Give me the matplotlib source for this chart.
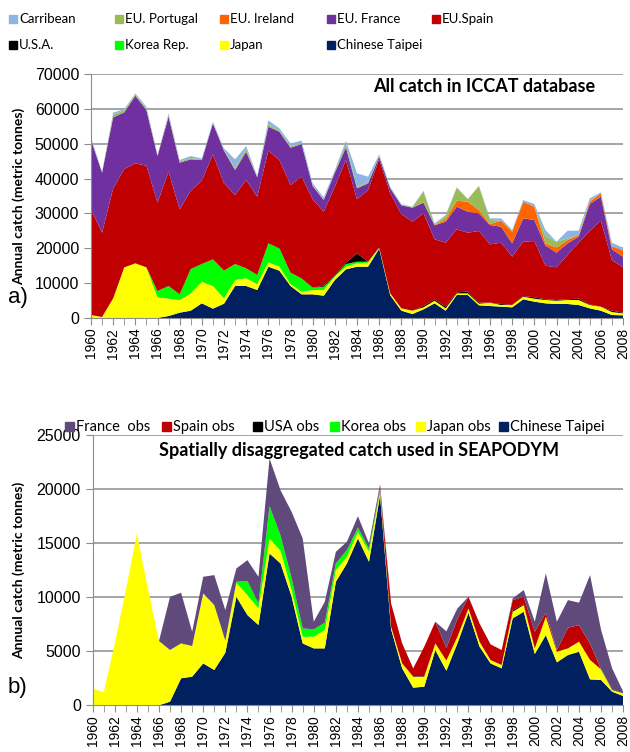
import matplotlib
matplotlib.use("Agg")
import matplotlib.pyplot as plt
from matplotlib.patches import Rectangle

years = list(range(1960, 2009))

# ---- panel a: all catch in ICCAT database (tonnes) ----
taipei = [0, 0, 0, 0, 0, 0, 0, 570, 1530, 2100, 4210, 2680, 4110, 9180, 9180, 8030,
          14720, 13575, 9178, 6788, 6788, 6405, 10898, 13958, 14722, 14722, 19885, 6501,
          2103, 1147, 2486, 4206, 2103, 6596, 6596, 3633, 3442, 3250, 3059, 5354, 4684,
          4206, 4015, 4015, 3728, 2772, 2103, 860, 765]
japan = [860, 290, 5640, 14530, 15680, 14530, 5930, 4970, 3630, 4970, 6210, 6500, 1530,
         1720, 2200, 1720, 1250, 1145, 573, 764, 1242, 1625, 1000, 764, 956, 1148, 191,
         573, 669, 956, 573, 765, 669, 478, 478, 478, 956, 478, 669, 764, 861, 956, 956,
         1147, 1434, 956, 1147, 861, 573]
korea = [0, 0, 0, 0, 0, 0, 1810, 3640, 1630, 6980, 5070, 7650, 7940, 4590, 2860, 2580,
         5440, 5260, 3251, 3824, 670, 956, 146, 765, 478, 286, 191, 0, 0, 0, 0, 0, 0, 0,
         0, 0, 0, 0, 0, 0, 0, 0, 0, 0, 0, 0, 0, 0, 0]
usa = [0, 0, 0, 0, 0, 0, 0, 0, 0, 0, 0, 0, 0, 0, 0, 0, 0, 0, 0, 0, 0, 287, 286, 383,
       2390, 0, 0, 0, 0, 0, 383, 383, 478, 287, 478, 287, 0, 287, 0, 192, 382, 192, 191,
       192, 383, 192, 0, 382, 192]
spain = [30310, 24180, 31550, 28200, 28680, 29160, 25340, 32790, 24380, 22470, 23900,
         30110, 25040, 19790, 25340, 22470, 26580, 25334, 25142, 29158, 25334, 21223,
         25334, 29444, 15488, 20554, 25239, 28680, 27055, 25525, 26576, 17208, 18356,
         18069, 16922, 20554, 16730, 17591, 13862, 15582, 16157, 9655, 9369, 12714,
         16061, 21032, 24665, 14531, 13001]
france = [19880, 17210, 20360, 16260, 19410, 15960, 13380, 15770, 13380, 8990, 5920,
          8890, 9370, 7170, 8120, 5540, 6880, 8126, 10708, 9369, 3824, 3346, 4016, 3633,
          3154, 1912, 764, 1434, 2486, 4016, 3060, 4015, 6022, 6500, 6022, 5066, 5544,
          4588, 3824, 6692, 6022, 5736, 4207, 3346, 1720, 7743, 6883, 3060, 3059]
ireland = [0] * 30 + [170, 120, 670, 1720, 2870, 956, 287, 1721, 3346, 4780, 3824, 669,
                      1434, 956, 478, 669, 956, 764, 1912]
portugal = [250, 120, 750, 610, 330, 550, 140, 460, 350, 390, 190, 170, 210, 550, 800,
            160, 630, 360, 350, 200, 140, 160, 318, 1053, 412, 478, 230, 212, 187, 156,
            3050, 164, 1000, 3729, 670, 6884, 1147, 0, 0, 0, 0, 2199, 1720, 478, 0, 287,
            0, 0, 0]
carribean = [500, 170, 590, 340, 330, 410, 150, 500, 410, 560, 290, 310, 460, 2510, 830,
             230, 1200, 600, 894, 800, 622, 600, 446, 859, 3890, 1434, 440, 266, 195, 130,
             219, 286, 240, 120, 166, 42, 478, 669, 478, 478, 765, 1625, 0, 2199, 1243,
             669, 287, 1148, 670]

# ---- panel b: spatially disaggregated catch used in SEAPODYM ----
taipei_b = [0, 0, 0, 0, 0, 0, 0, 340, 2500, 2650, 3880, 3270, 4870, 10050, 8355, 7430,
            14060, 13130, 10050, 5730, 5270, 5270, 11440, 13130, 15450, 13290, 19450,
            7030, 3420, 1630, 1730, 5120, 3200, 5730, 8570, 5430, 3880, 3420, 8050, 8660,
            4750, 6500, 3980, 4660, 4960, 2400, 2340, 1260, 860]
japan_b = [1570, 1200, 5730, 10670, 15900, 10820, 5950, 4780, 3230, 2840, 6480, 6010,
           1110, 1300, 1845, 1540, 1390, 1170, 620, 620, 1080, 1700, 1080, 620, 610, 920,
           310, 250, 460, 1020, 920, 610, 950, 620, 400, 460, 310, 310, 610, 620, 520,
           1700, 980, 610, 930, 1800, 930, 160, 250]
korea_b = [0] * 13 + [90, 1300, 460, 2990, 1400, 1080, 770, 680, 680, 610, 620, 400, 310,
                      160] + [0] * 19 + [60, 0, 0]
usa_b = [0] * 29 + [50, 50] + [0] * 7 + [140, 70] + [0] * 7 + [60, 0]
spain_b = [0] * 26 + [180, 2150, 1850, 720, 2730, 2010, 1150, 1650, 1080, 1690, 1450,
                      1390, 940, 700, 1540, 370, 160, 1910, 1540, 1500, 0, 0, 0]
france_b = [0, 0, 0, 0, 0, 0, 0, 4930, 4690, 1320, 1540, 2775, 2840, 1230, 1940, 2470,
            4410, 4200, 6160, 8330, 710, 1940, 1080, 770, 1050, 460, 370, 0, 0, 0, 0, 0,
            1550, 970, 0, 0, 0, 0, 160, 620, 930, 3640, 2620, 2560, 2070, 6355, 3640,
            1940, 150]

cols_a = ['#002060', '#FFFF00', '#00FF00', '#000000', '#C00000', '#7030A0',
          '#FF6600', '#9BBB59', '#8DB4E2']
cols_b = ['#002060', '#FFFF00', '#00FF00', '#000000', '#C00000', '#604A7B']

calibri = ['Lato', 'DejaVu Sans']
arial = ['Liberation Sans', 'DejaVu Sans']
grid_c = '#8C8C8C'

fig = plt.figure(figsize=(6.3, 7.52), dpi=100)


def style_axis(ax, ymax, ystep):
    ax.set_xlim(1960, 2008)
    ax.set_ylim(0, ymax)
    ax.set_yticks(range(0, ymax + 1, ystep))
    ax.set_xticks(range(1960, 2009, 2))
    ax.set_xticks(years, minor=True)
    ax.set_xticklabels([str(y) for y in range(1960, 2009, 2)], rotation=90,
                       fontsize=10, family=arial)
    for lab in ax.get_yticklabels():
        lab.set_family(arial)
        lab.set_fontsize(11.5)
    ax.grid(axis='y', color=grid_c, lw=1.1)
    ax.set_axisbelow(True)
    for s in ['top', 'right']:
        ax.spines[s].set_visible(False)
    for s in ['left', 'bottom']:
        ax.spines[s].set_color(grid_c)
    ax.tick_params(axis='both', which='both', direction='out', color=grid_c, length=5)
    ax.tick_params(axis='x', pad=2)
    ax.set_ylabel('Annual catch (metric tonnes)', fontsize=10, fontweight='bold',
                  family=calibri)


# panel a
ax1 = fig.add_axes([91 / 630, 1 - 318 / 752, 532 / 630, 244 / 752])
ax1.stackplot(years, taipei, japan, korea, usa, spain, france, ireland, portugal,
              carribean, colors=cols_a, lw=0)
style_axis(ax1, 70000, 10000)
ax1.yaxis.set_label_coords(-0.124, 0.5)
ax1.text(0.739, 0.95, 'All catch in ICCAT database', transform=ax1.transAxes,
         ha='center', va='center', fontsize=13, fontweight='bold', family=calibri)

# panel b
ax2 = fig.add_axes([92.7 / 630, 1 - 705.3 / 752, 530.5 / 630, 270 / 752])
ax2.stackplot(years, taipei_b, japan_b, korea_b, usa_b, spain_b, france_b,
              colors=cols_b, lw=0)
style_axis(ax2, 25000, 5000)
ax2.yaxis.set_label_coords(-0.127, 0.5)
ax2.text(0.502, 0.944, 'Spatially disaggregated catch used in SEAPODYM',
         transform=ax2.transAxes, ha='center', va='center', fontsize=13,
         fontweight='bold', family=calibri)

# legends drawn by hand (Excel style fixed columns)
W, H = 630.0, 752.0


def legend_item(x, y, color, label, size=10.5, sq=9):
    fig.patches.append(Rectangle((x / W, 1 - (y + sq / 2) / H), sq / W, sq / H,
                                 transform=fig.transFigure, color=color))
    fig.text((x + sq + 2) / W, 1 - y / H, label, ha='left', va='center', fontsize=size,
             family=calibri)


names_a = ['Carribean', 'EU. Portugal', 'EU. Ireland', 'EU. France', 'EU.Spain']
colors_a1 = ['#8DB4E2', '#9BBB59', '#FF6600', '#7030A0', '#C00000']
names_a2 = ['U.S.A.', 'Korea Rep.', 'Japan', 'Chinese Taipei']
colors_a2 = ['#000000', '#00FF00', '#FFFF00', '#002060']
col_x = [9, 115, 220, 327, 432]
for i, (n, c) in enumerate(zip(names_a, colors_a1)):
    legend_item(col_x[i], 19, c, n, size=9.5, sq=8)
for i, (n, c) in enumerate(zip(names_a2, colors_a2)):
    legend_item(col_x[i], 45, c, n, size=9.5, sq=8)

names_b = ['France  obs', 'Spain obs', 'USA obs', 'Korea obs', 'Japan obs',
           'Chinese Taipei']
colors_b = ['#604A7B', '#C00000', '#000000', '#00FF00', '#FFFF00', '#002060']
bx = [65, 162, 253, 330, 416, 499]
for x, n, c in zip(bx, names_b, colors_b):
    legend_item(x, 427, c, n)

fig.text(8 / W, 1 - 298 / H, 'a)', fontsize=16, family=arial, va='center')
fig.text(8 / W, 1 - 688 / H, 'b)', fontsize=16, family=arial, va='center')

fig.savefig('out.png', dpi=100)
